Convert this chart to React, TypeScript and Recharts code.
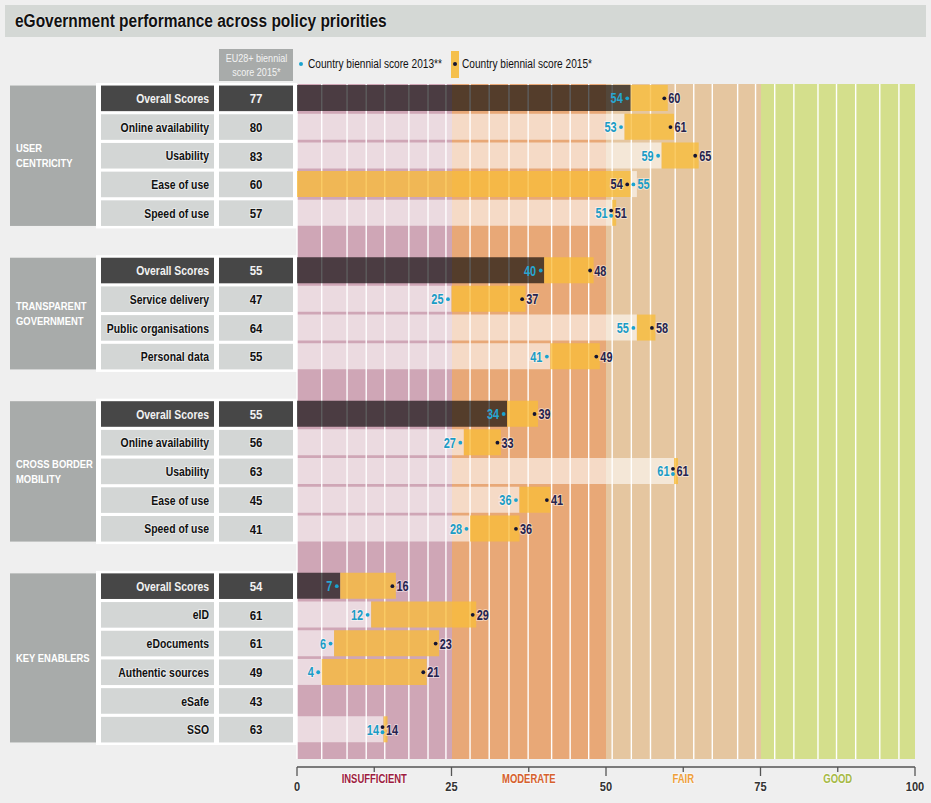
import React from "react";
import { ComposedChart, Bar, Cell, Scatter, XAxis, YAxis, CartesianGrid } from "recharts";

// condensed look: Liberation Sans squeezed horizontally
const FONT = '"Liberation Sans", Arial, sans-serif';

// ---- data ----
const groupLabels = [["USER", "CENTRICITY"], ["TRANSPARENT", "GOVERNMENT"], ["CROSS BORDER", "MOBILITY"], ["KEY ENABLERS"]];
const indicators = [
  ["Overall Scores", "Online availability", "Usability", "Ease of use", "Speed of use"],
  ["Overall Scores", "Service delivery", "Public organisations", "Personal data"],
  ["Overall Scores", "Online availability", "Usability", "Ease of use", "Speed of use"],
  ["Overall Scores", "eID", "eDocuments", "Authentic sources", "eSafe", "SSO"],
];
const euScore2015 = [
  [77, 80, 83, 60, 57],
  [55, 47, 64, 55],
  [55, 56, 63, 45, 41],
  [54, 61, 61, 49, 43, 63],
];
const score2013: (number | null)[][] = [
  [54, 53, 59, 55, 51],
  [40, 25, 55, 41],
  [34, 27, 61, 36, 28],
  [7, 12, 6, 4, null, 14],
];
const score2015: (number | null)[][] = [
  [60, 61, 65, 54, 51],
  [48, 37, 58, 49],
  [39, 33, 61, 41, 36],
  [16, 29, 23, 21, null, 14],
];
const axisTicks = [0, 12.5, 25, 37.5, 50, 62.5, 75, 87.5, 100];
const axisLabels: Record<string, string> = { "12.5": "INSUFFICIENT", "37.5": "MODERATE", "62.5": "FAIR", "87.5": "GOOD" };
const bandEdges = [0, 25, 50, 75];
const bandColors = ["#cfa6b6", "#e8a877", "#e5c6a0", "#d4df8c"];
const bandLabelColors = ["#9e1c40", "#d6612d", "#efa03a", "#a6ba45"];
const gridLines = [0, 4, 8.1, 11.2, 14.2, 18.1, 21.2, 24.1, 28, 31.1, 34.3, 37.4, 41.2, 44.2, 47.2, 51, 54.1, 57.2, 61.2, 64.2, 67.2, 71.3, 74.2, 77.3, 80.4, 84.3, 87.3, 90.4, 94.3, 97.4];

// ---- rows (with a spacer between groups) ----
type Row = {
  key: string; group: number; idx: number; label?: string; eu?: number;
  s13?: number | null; s15?: number | null; base?: number; up?: number; down?: number;
  same?: boolean; overall?: boolean; groupSize?: number;
};
const rows: Row[] = [];
indicators.forEach((list, g) => {
  if (g > 0) rows.push({ key: `gap${g}`, group: g, idx: -1 });
  list.forEach((label, i) => {
    const a = score2013[g][i];
    const b = score2015[g][i];
    const has = a != null && b != null;
    rows.push({
      key: `r${g}-${i}`, group: g, idx: i, label, eu: euScore2015[g][i], s13: a, s15: b,
      base: has ? Math.min(a!, b!) : undefined,
      up: has ? Math.max(0, b! - a!) : undefined,
      down: has ? Math.max(0, a! - b!) : undefined,
      same: has && a === b, overall: i === 0, groupSize: list.length,
    });
  });
});
const rowByKey = new Map(rows.map((r) => [r.key, r]));

const fillStops = Array.from(new Set([...gridLines, ...bandEdges])).sort((a, b) => a - b);
const stripeColors = fillStops.map((v) => bandColors[bandEdges.filter((e) => e <= v).length - 1]);

// ---- layout ----
const W = 931;
const H = 803;
const MARGIN = { top: 84, right: 16, bottom: 0, left: 0 };
const Y_AXIS_W = 297;
const X_AXIS_H = 44;
const PAD_BOTTOM = 15;
const PLOT_W = W - MARGIN.left - MARGIN.right - Y_AXIS_W;
const PLOT_H = H - MARGIN.top - MARGIN.bottom - X_AXIS_H;
const PITCH = (PLOT_H - PAD_BOTTOM) / rows.length;
const BOX_H = 25.6;
const AXIS_Y = MARGIN.top + PLOT_H + 8;

const TEAL = "#1b9cc6";
const NAVY = "#25234f";
const YELLOW = "#f8bd3a";
const LIGHT_BOX = "#d3d6d5";
const DARK_BOX = "#474747";
const GROUP_BOX = "#a8abaa";

const halo = { stroke: "#fff", strokeWidth: 2.2, strokeOpacity: 0.45, paintOrder: "stroke" as const };

// squeezed svg text
const SText = ({ x, y, sx = 0.8, anchor = "start", children, ...rest }: any) => (
  <text transform={`translate(${x},${y}) scale(${sx},1)`} textAnchor={anchor} {...rest}>
    {children}
  </text>
);

const TableTick = (props: any) => {
  const { y, payload } = props;
  const row = rowByKey.get(payload.value);
  if (!row || row.idx < 0) return <g />;
  const top = y - BOX_H / 2;
  const dark = row.overall;
  const groupH = (row.groupSize! - 1) * PITCH + BOX_H;
  const lines = groupLabels[row.group];
  const txt = dark ? "#f2f2f2" : "#111";
  return (
    <g fontFamily={FONT} fontWeight="bold">
      {row.idx === 0 && (
        <g>
          <rect x={96} y={top - 2.5} width={201} height={groupH + 5} fill="#fff" />
          <rect x={10} y={top} width={86} height={groupH} fill={GROUP_BOX} />
          {lines.map((t, i) => (
            <SText key={t} x={16} y={top + groupH / 2 + 4.2 + (i - (lines.length - 1) / 2) * 15} sx={0.82} fontSize={11.5} fill="#fff">
              {t}
            </SText>
          ))}
        </g>
      )}
      <rect x={101} y={top} width={113} height={BOX_H} fill={dark ? DARK_BOX : LIGHT_BOX} />
      <rect x={219} y={top} width={74} height={BOX_H} fill={dark ? DARK_BOX : LIGHT_BOX} />
      <SText x={209} y={y + 4.6} anchor="end" fontSize={13} fill={txt} {...(dark ? {} : halo)}>
        {row.label}
      </SText>
      <SText x={256} y={y + 4.8} anchor="middle" sx={0.85} fontSize={13.5} fill={txt} {...(dark ? {} : halo)}>
        {row.eu}
      </SText>
    </g>
  );
};

const AxisTick = (props: any) => {
  const { x, payload } = props;
  const v = payload.value;
  const label = axisLabels[String(v)];
  const major = label == null;
  const band = bandEdges.filter((e) => e <= v).length - 1;
  return (
    <g fontFamily={FONT} fontWeight="bold">
      {v === axisTicks[0] && <line x1={x} x2={x + PLOT_W} y1={AXIS_Y} y2={AXIS_Y} stroke="#555" strokeWidth={1.3} />}
      <line x1={x} x2={x} y1={AXIS_Y} y2={AXIS_Y + (major ? 9 : 5)} stroke="#555" strokeWidth={1.3} />
      {major ? (
        <SText x={x} y={AXIS_Y + 24} anchor="middle" sx={0.85} fontSize={13} fill="#333" {...halo}>{v}</SText>
      ) : (
        <SText x={x} y={AXIS_Y + 16} anchor="middle" sx={0.79} fontSize={12} fill={bandLabelColors[band]} {...halo}>{label}</SText>
      )}
    </g>
  );
};

function makeMark(series: "s13" | "s15") {
  return (props: any) => {
    const { cx, cy, payload } = props;
    const row: Row | undefined = payload;
    if (!row || row[series] == null || cx == null || !isFinite(cx)) return <g />;
    const same = !!row.same;
    const onLeft = series === "s13" ? row.s15! >= row.s13! : row.s15! < row.s13!;
    const dotX = same ? cx - 1 : cx - 3.5;
    const dotY = same ? cy + (series === "s13" ? 2.6 : -2.6) : cy;
    const color = series === "s13" ? TEAL : NAVY;
    const tx = onLeft ? dotX - (same ? 3.5 : 4.5) : dotX + (same ? 3.5 : 4);
    const onDark = row.overall && onLeft;
    return (
      <g>
        <circle cx={dotX} cy={dotY} r={1.9} fill={series === "s13" ? "#1aa3cf" : "#141432"} />
        <SText x={tx} y={cy + 5} anchor={onLeft ? "end" : "start"} sx={0.78} fontFamily={FONT} fontWeight="bold" fontSize={14} fill={onDark ? "#27a6d2" : color} {...(onDark ? {} : halo)}>
          {row[series]}
        </SText>
      </g>
    );
  };
}

const baseFill = (r: Row) => (r.overall ? "#000" : r.s15 != null && r.s13 != null && r.s15 < r.s13 ? YELLOW : "#fff");
const baseOpacity = (r: Row) => (r.overall ? 0.64 : r.s15 != null && r.s13 != null && r.s15 < r.s13 ? 0.78 : 0.58);

const squeeze = (s: number): React.CSSProperties => ({ display: "inline-block", transform: `scaleX(${s})`, transformOrigin: "left center", whiteSpace: "nowrap" });

export default function App() {
  return (
    <div style={{ position: "absolute", left: 0, top: 0, width: W, height: H, background: "#efefef", overflow: "hidden" }}>
      <ComposedChart width={W} height={H} data={rows} layout="vertical" margin={MARGIN}>
        <CartesianGrid horizontal={false} vertical stroke="none" verticalValues={fillStops} verticalFill={stripeColors} />
        <CartesianGrid horizontal={false} vertical stroke="#fff" strokeWidth={1.4} verticalValues={gridLines} />
        <XAxis
          type="number"
          domain={[0, 100]}
          ticks={axisTicks}
          interval={0}
          axisLine={false}
          tickLine={false}
          tickSize={0}
          height={X_AXIS_H}
          tick={<AxisTick />}
        />
        <YAxis
          type="category"
          dataKey="key"
          width={Y_AXIS_W}
          interval={0}
          axisLine={false}
          tickLine={false}
          padding={{ top: 0, bottom: PAD_BOTTOM }}
          tick={<TableTick />}
        />
        <Bar dataKey="base" stackId="r" barSize={26} isAnimationActive={false}>
          {rows.map((r) => (
            <Cell key={r.key} fill={baseFill(r)} fillOpacity={baseOpacity(r)} />
          ))}
        </Bar>
        <Bar
          dataKey="up"
          stackId="r"
          barSize={26}
          fill={YELLOW}
          fillOpacity={0.78}
          minPointSize={(_v: any, i: number) => (rows[i] && rows[i].same ? 4 : 0)}
          isAnimationActive={false}
        />
        <Bar dataKey="down" stackId="r" barSize={26} fill="#fff" fillOpacity={0.58} isAnimationActive={false} />
        <Scatter dataKey="s13" shape={makeMark("s13")} isAnimationActive={false} />
        <Scatter dataKey="s15" shape={makeMark("s15")} isAnimationActive={false} />
      </ComposedChart>

      <div
        style={{
          position: "absolute", left: 5, top: 5, width: 921, height: 32, background: "#d4d8d5",
          fontFamily: FONT, fontWeight: "bold", fontSize: 18, lineHeight: "32px", color: "#111",
          paddingLeft: 10, boxSizing: "border-box", textShadow: "0 0 2px #fff",
        }}
      >
        <span style={squeeze(0.86)}>eGovernment performance across policy priorities</span>
      </div>

      <div
        style={{
          position: "absolute", left: 219, top: 49, width: 74, height: 32, background: GROUP_BOX,
          color: "#f3f3f3", fontFamily: FONT, fontSize: 11, lineHeight: "14px", textAlign: "center",
          paddingTop: 2, boxSizing: "border-box",
        }}
      >
        <span style={{ ...squeeze(0.82), transformOrigin: "center" }}>EU28+ biennial</span>
        <br />
        <span style={{ ...squeeze(0.82), transformOrigin: "center" }}>score 2015*</span>
      </div>
      <div style={{ position: "absolute", left: 299, top: 62, width: 4.4, height: 4.4, borderRadius: "50%", background: "#1aa3cf" }} />
      <div style={{ position: "absolute", left: 308, top: 56, fontFamily: FONT, fontSize: 12.5, lineHeight: "16px", color: "#111" }}>
        <span style={squeeze(0.81)}>Country biennial score 2013**</span>
      </div>
      <div style={{ position: "absolute", left: 451, top: 51, width: 8, height: 27, background: "#f5c04d" }} />
      <div style={{ position: "absolute", left: 453, top: 62, width: 4.4, height: 4.4, borderRadius: "50%", background: "#141432" }} />
      <div style={{ position: "absolute", left: 462, top: 56, fontFamily: FONT, fontSize: 12.5, lineHeight: "16px", color: "#111" }}>
        <span style={squeeze(0.81)}>Country biennial score 2015*</span>
      </div>
    </div>
  );
}
